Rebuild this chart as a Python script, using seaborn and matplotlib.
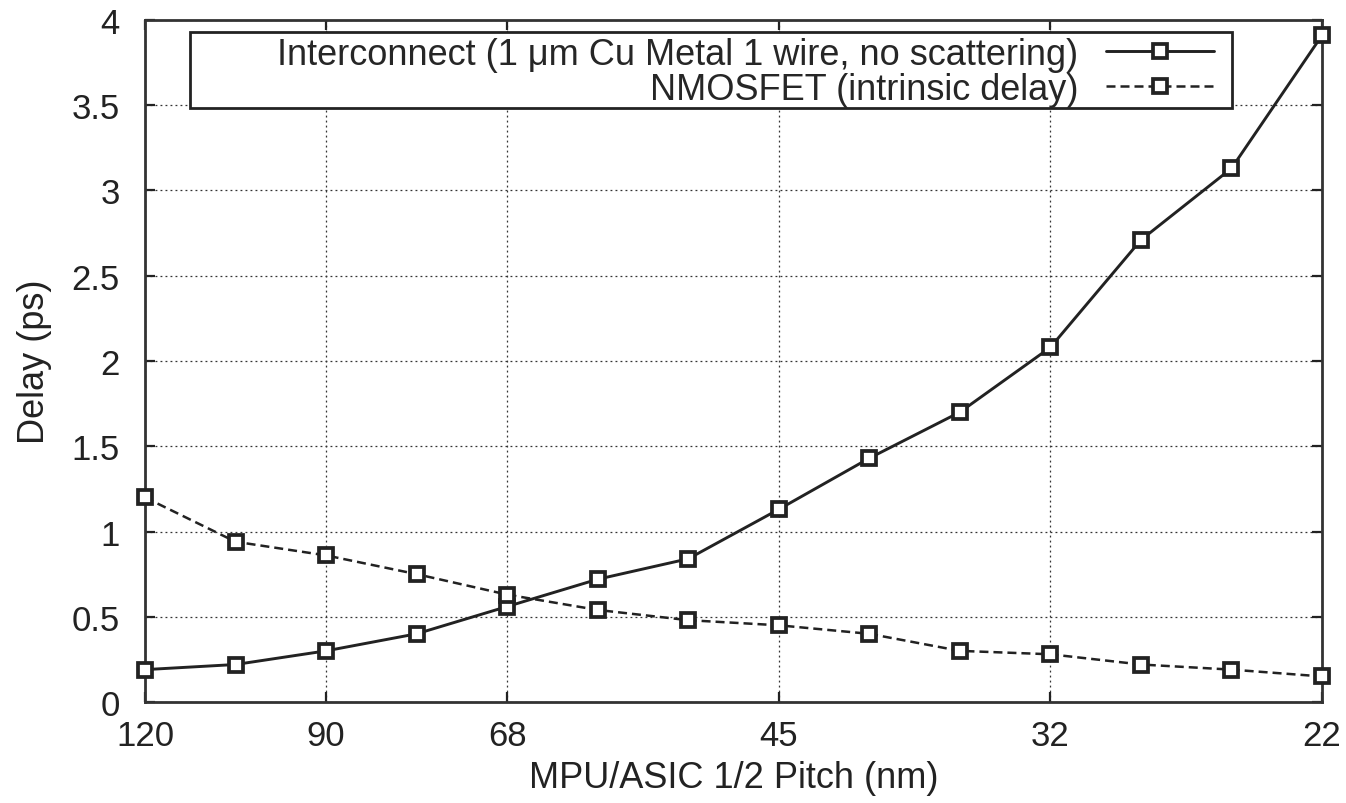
import pandas as pd
import matplotlib
matplotlib.use("Agg")
import matplotlib.pyplot as plt
from matplotlib.patches import Rectangle
import seaborn as sns

# pitch nodes (nm), one per data point; only some are labelled on the axis
pitch = [120, 107, 90, 80, 68, 59, 52, 45, 40, 36, 32, 28, 25, 22]
tick_labels = ["120", "90", "68", "45", "32", "22"]
tick_nodes = [120, 90, 68, 45, 32, 22]

interconnect = [0.19, 0.22, 0.30, 0.40, 0.56, 0.72, 0.84, 1.13, 1.43, 1.70, 2.08, 2.71, 3.13, 3.91]
nmosfet = [1.20, 0.94, 0.86, 0.75, 0.63, 0.54, 0.48, 0.45, 0.40, 0.30, 0.28, 0.22, 0.19, 0.15]

lab_ic = "Interconnect (1 \u03bcm Cu Metal 1 wire, no scattering)"
lab_nm = "NMOSFET (intrinsic delay)"

df = pd.DataFrame({"idx": range(len(pitch)), "ic": interconnect, "nm": nmosfet})

sns.set_style("ticks")
plt.rcParams["font.family"] = ["Liberation Sans", "DejaVu Sans"]

fig = plt.figure(figsize=(13.46, 8.04), dpi=100)
ax = fig.add_axes([0.1077, 0.1256, 0.8745, 0.8483])

col = "#222222"
mk = dict(marker="s", markersize=10.5, markerfacecolor="white",
          markeredgecolor=col, markeredgewidth=2.7, clip_on=False, zorder=3)
sns.lineplot(data=df, x="idx", y="ic", ax=ax, color=col, linewidth=2.1,
             label=lab_ic, **mk)
sns.lineplot(data=df, x="idx", y="nm", ax=ax, color=col, linewidth=1.8,
             linestyle=(0, (3.6, 2.0)), label=lab_nm, **mk)

ax.set_xlim(0, len(pitch) - 1)
ax.set_ylim(0, 4)
ax.set_xticks([pitch.index(p) for p in tick_nodes])
ax.set_xticklabels(tick_labels)
ax.set_yticks([0, 0.5, 1, 1.5, 2, 2.5, 3, 3.5, 4])
ax.set_yticklabels(["0", "0.5", "1", "1.5", "2", "2.5", "3", "3.5", "4"])
ax.grid(True, linestyle=(0, (1.5, 2.5)), color="#333333", linewidth=0.9)
ax.tick_params(direction="in", length=7, width=1.6, labelsize=25,
               top=True, right=True, colors=col, labelcolor="#222222")
ax.tick_params(axis="x", pad=12)
ax.tick_params(axis="y", pad=18)
for s in ax.spines.values():
    s.set_linewidth(2.0)
    s.set_color("#333333")

ax.set_xlabel("MPU/ASIC 1/2 Pitch (nm)", fontsize=26, color="#222222", labelpad=6)
ax.set_ylabel("Delay (ps)", fontsize=26, color="#222222", labelpad=14)

# key box spans x 190..1232, y 33..109 px in the reference (gnuplot style)
x0 = (190 - 145) / 1177
x1 = (1232 - 145) / 1177
y1 = (703 - 33) / 682
y0 = (703 - 109) / 682
ax.add_patch(Rectangle((x0, y0), x1 - x0, y1 - y0, transform=ax.transAxes,
                       facecolor="white", edgecolor="#222222", linewidth=2.0,
                       zorder=4))

leg = ax.legend(loc="upper right", bbox_to_anchor=((1214 - 145) / 1177, (703 - 38) / 682),
                fontsize=26, markerfirst=False, handlelength=3.0,
                frameon=False, borderpad=0, labelspacing=0.0,
                handletextpad=0.75, borderaxespad=0)
leg.set_zorder(5)
for t in leg.get_texts():
    t.set_ha("right")
leg._legend_box.align = "right"

fig.savefig("out.png", dpi=100, facecolor="white")
